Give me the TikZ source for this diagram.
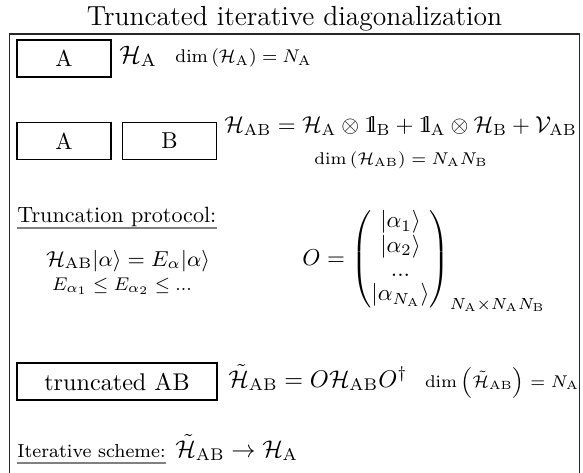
\documentclass[tikz,border=0pt]{standalone}
\IfFileExists{fix-cm.sty}{\usepackage{fix-cm}}{}
\usepackage{amsmath}
\IfFileExists{dsfont.sty}{\usepackage{dsfont}\newcommand{\idop}{\mathds{1}}}{\newcommand{\idop}{\mathrm{1}\mkern-4.5mu\mathrm{l}}}
\usetikzlibrary{positioning}

\begin{document}
\begin{tikzpicture}[
      x=0.4348pt, y=-0.4348pt,
      sysbox/.style={rectangle, draw, line width=0.5pt, minimum width=40.9pt, minimum height=16.1pt, inner sep=0pt},
      eqn/.style={inner sep=0pt, anchor=base west},
      smalleq/.style={inner sep=0pt, anchor=base},
      uline/.style={gray, line width=0.9pt}
    ]
    \useasboundingbox (0,0) rectangle (583,472);

    % title and frame
    \node[inner sep=0pt, anchor=base, font=\large] (title) at (294.5,25) {Truncated iterative diagonalization};
    \draw[line width=0.6pt, black!85] (9.5,476) -- (9.5,34) -- (579.5,34) -- (579.5,476);

    % single subsystem
    \node[sysbox] (a1) at (64,58.5) {A};
    \node[eqn, font=\fontsize{11}{13}\selectfont] (ha) at (119,63) {$\mathcal{H}_\mathrm{A}$};
    \node[eqn, font=\footnotesize] (dima) at (175,62) {$\dim\left(\mathcal{H}_\mathrm{A}\right) = N_\mathrm{A}$};

    % two subsystems
    \node[sysbox] (a2) at (64,141) {A};
    \node[sysbox] (b2) at (169.5,141) {B};
    \node[eqn] (hab) at (224,132) {$\mathcal{H}_\mathrm{AB} = \mathcal{H}_\mathrm{A}\otimes\idop_\mathrm{B} + \idop_\mathrm{A}\otimes\mathcal{H}_\mathrm{B} + \mathcal{V}_\mathrm{AB}$};
    \node[smalleq, font=\fontsize{7.4}{9}\selectfont] (dimab) at (401,164) {$\dim\left(\mathcal{H}_\mathrm{AB}\right) = N_\mathrm{A}N_\mathrm{B}$};

    % truncation
    \node[eqn, font=\fontsize{9.6}{12}\selectfont] (trunc) at (17,222) {Truncation protocol:};
    \draw[uline] ([yshift=-2.8pt]trunc.base west) -- ([yshift=-2.8pt]trunc.base east);
    \node[smalleq, font=\fontsize{9.4}{12}\selectfont] (eig) at (128,266) {$\mathcal{H}_\mathrm{AB}|\alpha\rangle = E_\alpha|\alpha\rangle$};
    \node[smalleq, font=\footnotesize] (order) at (122,290) {$E_{\alpha_1}\leq E_{\alpha_2}\leq ...$};
    \node[eqn] (omat) at (302,265) {\renewcommand{\arraystretch}{0.87}$O = \begin{pmatrix} |\alpha_1\rangle \\ |\alpha_2\rangle \\ ... \\ |\alpha_{N_\mathrm{A}}\rangle \end{pmatrix}_{N_\mathrm{A}\times N_\mathrm{A}N_\mathrm{B}}$};

    % truncated system
    \node[sysbox, minimum width=87pt, font=\fontsize{10.5}{12}\selectfont] (tab) at (117,381.5) {truncated AB};
    \node[eqn, font=\fontsize{10.5}{12}\selectfont] (htab) at (228,387) {$\tilde{\mathcal{H}}_\mathrm{AB} = O\mathcal{H}_\mathrm{AB}O^\dagger$};
    \node[smalleq, font=\fontsize{7.4}{9}\selectfont] (dimt) at (502,387) {$\dim\left(\tilde{\mathcal{H}}_\mathrm{AB}\right) = N_\mathrm{A}$};

    % iteration
    \node[eqn, font=\fontsize{8.2}{10}\selectfont] (iter) at (17,457) {Iterative scheme:};
    \draw[uline] ([yshift=-2.8pt]iter.base west) -- ([yshift=-2.8pt]iter.base east);
    \node[eqn, font=\fontsize{10.5}{12}\selectfont] (step) at (175,457) {$\tilde{\mathcal{H}}_\mathrm{AB}\rightarrow\mathcal{H}_\mathrm{A}$};
\end{tikzpicture}
\end{document}
